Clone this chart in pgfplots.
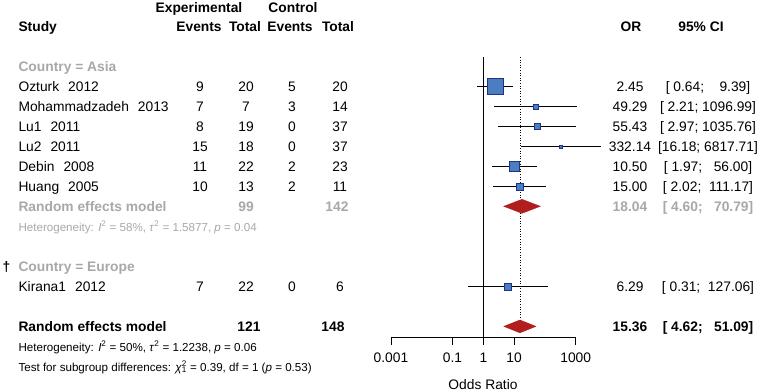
\documentclass[border=0pt]{standalone}
\usepackage{pgfplots}
\pgfplotsset{compat=1.18}
\usepackage{pgfplotstable}
\usepackage{fontspec}
\setmainfont{Liberation Sans}

\definecolor{boxfill}{RGB}{74,126,190}
\definecolor{boxline}{RGB}{30,50,140}
\definecolor{diam}{RGB}{178,30,30}
\definecolor{grp}{RGB}{168,168,168}

\newcommand{\fs}{\fontsize{13.8pt}{16pt}\selectfont}
\newcommand{\fh}{\fontsize{11.6pt}{14pt}\selectfont}

% one row per study: vertical position, odds ratio, 95% CI, half side of the weight box, half height of the centre tick
\pgfplotstableread{
y      or      lo     hi       size  tick
-86.5  2.45    0.64   9.39     8.0   3
-106.5 49.29   2.21   1096.99  2.6   2.2
-126.5 55.43   2.97   1035.76  2.9   2.4
-146.5 332.14  16.18  6817.71  1.5   0
-166.5 10.50   1.97   56.00    5.0   4.5
-186.5 15.00   2.02   111.17   3.7   3.5
-286.5 6.29    0.31   127.06   3.7   3.5
}\studies

\begin{document}
\begin{tikzpicture}[x=1pt,y=1pt]
\useasboundingbox (0,0) rectangle (760,-391);

\begin{axis}[
  at={(391pt,-337pt)}, anchor=south west,
  scale only axis, width=184.7pt, height=280pt,
  xmode=log, xmin=0.001, xmax=1000,
  ymin=-337, ymax=-57,
  clip=false,
  axis x line*=bottom, hide y axis,
  x axis line style={-, line width=0.7pt},
  xtick={0.001,0.1,1,10,1000},
  xticklabels={0.001,0.1,1,10,1000},
  xminorticks=false,
  tick align=outside, major tick length=8pt,
  tick style={black, line width=0.7pt},
  xticklabel style={font=\fs, yshift=-4pt},
]
% line of no effect and pooled estimate
\addplot[black, line width=0.7pt] coordinates {(1,-57) (1,-337)};
\addplot[black, dotted, line width=0.6pt] coordinates {(15.36,-57) (15.36,-320)};

% weight boxes
\addplot[scatter, only marks, mark=square*, line width=0.6pt,
  scatter/use mapped color={draw=boxline, fill=boxfill},
  visualization depends on={\thisrow{size} \as \msize},
  scatter/@pre marker code/.append style={/tikz/mark size=\msize}]
  table[x=or, y=y] {\studies};

% confidence intervals and centre ticks
\addplot[draw=none, mark=none,
  error bars/.cd, x dir=both, x explicit, y dir=both, y explicit,
  error mark=none, error bar style={draw=black, solid, line width=0.7pt}]
  table[x=or, y=y,
    x error plus expr=\thisrow{hi}-\thisrow{or},
    x error minus expr=\thisrow{or}-\thisrow{lo},
    y error expr=\thisrow{tick}] {\studies};

% random effects diamonds
\addplot[fill=diam, draw=diam, line width=0.4pt] coordinates
  {(4.60,-206.3) (18.04,-199.3) (70.79,-206.3) (18.04,-213.3)} -- cycle;
\addplot[fill=diam, draw=diam, line width=0.4pt] coordinates
  {(4.62,-326.4) (15.36,-320.0) (51.09,-326.4) (15.36,-332.8)} -- cycle;
\end{axis}

\node[anchor=base, font=\fs] at (483,-389) {Odds Ratio};

% headers
\begin{scope}[every node/.style={font=\fs\bfseries, anchor=base}]
\node at (199,-12) {Experimental};
\node at (293,-12) {Control};
\node[anchor=base west] at (15,-31) {Study};
\node at (199,-31) {Events};
\node at (245,-31) {Total};
\node at (290,-31) {Events};
\node at (338,-31) {Total};
\node at (631,-31) {OR};
\node at (701,-31) {95\% CI};
\end{scope}

% subgroup Asia
\node[anchor=base west, font=\fs\bfseries, text=grp] at (15,-71) {Country = Asia};
\begin{scope}[every node/.style={font=\fs, anchor=base}]
\node[anchor=base west] at (15,-91) {Ozturk\hspace{9pt}2012};
\node[anchor=base west] at (15,-111) {Mohammadzadeh\hspace{9pt}2013};
\node[anchor=base west] at (15,-131) {Lu1\hspace{9pt}2011};
\node[anchor=base west] at (15,-151) {Lu2\hspace{9pt}2011};
\node[anchor=base west] at (15,-171) {Debin\hspace{9pt}2008};
\node[anchor=base west] at (15,-191) {Huang\hspace{9pt}2005};
\node[anchor=base west] at (15,-291) {Kirana1\hspace{9pt}2012};

\node at (200,-91) {9};   \node at (246,-91) {20};  \node at (292,-91) {5}; \node at (340,-91) {20};
\node at (200,-111) {7};  \node at (246,-111) {7};  \node at (292,-111) {3}; \node at (340,-111) {14};
\node at (200,-131) {8};  \node at (246,-131) {19}; \node at (292,-131) {0}; \node at (340,-131) {37};
\node at (200,-151) {15}; \node at (246,-151) {18}; \node at (292,-151) {0}; \node at (340,-151) {37};
\node at (200,-171) {11}; \node at (246,-171) {22}; \node at (292,-171) {2}; \node at (340,-171) {23};
\node at (200,-191) {10}; \node at (246,-191) {13}; \node at (292,-191) {2}; \node at (340,-191) {11};
\node at (200,-291) {7};  \node at (246,-291) {22}; \node at (292,-291) {0}; \node at (340,-291) {6};

\node at (630,-91) {2.45};   \node at (708,-91) {[\ 0.64;\ \ \ \ 9.39]};
\node at (630,-111) {49.29}; \node at (708,-111) {[\ 2.21;\ 1096.99]};
\node at (630,-131) {55.43}; \node at (708,-131) {[\ 2.97;\ 1035.76]};
\node at (630,-151) {332.14};\node at (708,-151) {[16.18;\ 6817.71]};
\node at (630,-171) {10.50}; \node at (708,-171) {[\ 1.97;\ \ \ 56.00]};
\node at (630,-191) {15.00}; \node at (708,-191) {[\ 2.02;\ \ 111.17]};
\node at (630,-291) {6.29};  \node at (708,-291) {[\ 0.31;\ \ 127.06]};
\end{scope}

\begin{scope}[every node/.style={font=\fs\bfseries, anchor=base, text=grp}]
\node[anchor=base west] at (15,-211) {Random effects model};
\node at (246,-211) {99}; \node at (337,-211) {142};
\node at (630,-211) {18.04}; \node at (708,-211) {[\ 4.60;\ \ \ 70.79]};
\end{scope}
\node[anchor=base west, font=\fh, text=grp] at (15,-231)
  {Heterogeneity: \textit{I}\textsuperscript{2} = 58\%, \textit{τ}\textsuperscript{2} = 1.5877, \textit{p} = 0.04};

% subgroup Europe
\node[anchor=base, font=\fs\bfseries] at (6.5,-271) {†};
\node[anchor=base west, font=\fs\bfseries, text=grp] at (15,-271) {Country = Europe};

% overall
\begin{scope}[every node/.style={font=\fs\bfseries, anchor=base}]
\node[anchor=base west] at (15,-331) {Random effects model};
\node at (249,-331) {121}; \node at (333,-331) {148};
\node at (630,-331) {15.36}; \node at (708,-331) {[\ 4.62;\ \ \ 51.09]};
\end{scope}
\node[anchor=base west, font=\fh] at (15,-351)
  {Heterogeneity: \textit{I}\textsuperscript{2} = 50\%, \textit{τ}\textsuperscript{2} = 1.2238, \textit{p} = 0.06};
\node[anchor=base west, font=\fh] at (15,-371)
  {Test for subgroup differences: \textit{χ}\makebox[0pt][l]{\textsuperscript{2}}\textsubscript{1} = 0.39, df = 1 (\textit{p} = 0.53)};
\end{tikzpicture}
\end{document}
